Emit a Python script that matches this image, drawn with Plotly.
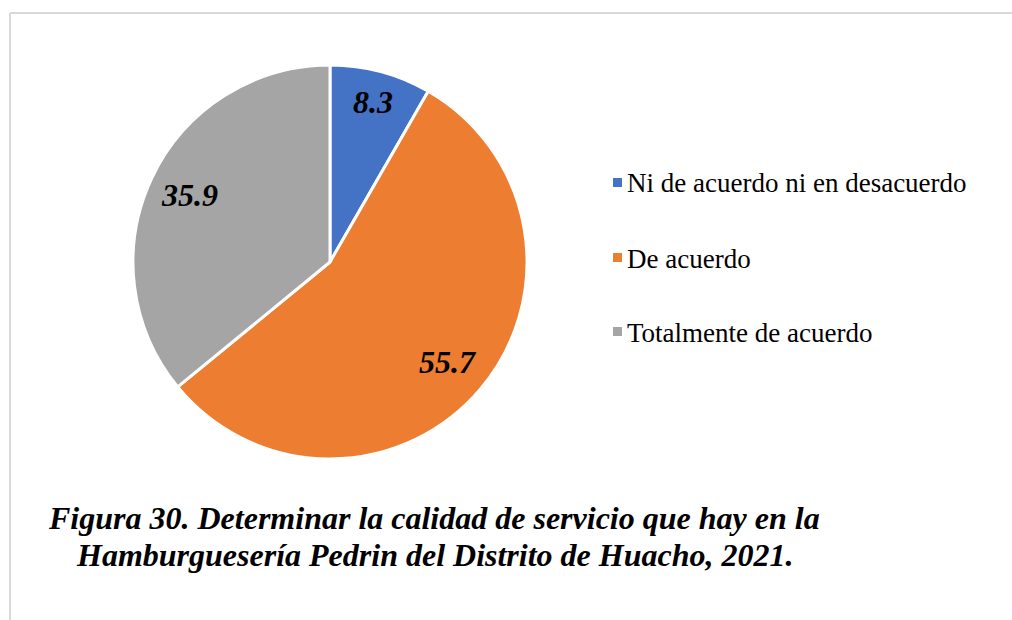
import math
import plotly.graph_objects as go

categories = ["Ni de acuerdo ni en desacuerdo", "De acuerdo", "Totalmente de acuerdo"]
values = [8.3, 55.7, 35.9]
colors = ["#4472C4", "#ED7D31", "#A5A5A5"]
title_lines = ["Figura 30. Determinar la calidad de servicio que hay en la",
               "Hamburguesería Pedrin del Distrito de Huacho, 2021."]

W, H = 1012, 620
FONT = "Liberation Serif, Times New Roman, serif"

def px(x):
    return x / W

def py(y):
    return 1 - y / H

cx, cy, r = 330, 262, 197
label_radius = [0.84, 0.785, 0.79]   # fraction of radius for each data label

fig = go.Figure()
fig.add_trace(go.Pie(
    labels=categories,
    values=values,
    sort=False,
    direction="clockwise",
    rotation=0,
    marker=dict(colors=colors, line=dict(color="white", width=3)),
    textinfo="none",
    hoverinfo="label+value",
    domain=dict(x=[px(cx - r), px(cx + r)], y=[py(cy + r), py(cy - r)]),
    showlegend=False,
))

shapes = [
    dict(type="line", xref="paper", yref="paper", x0=px(10), x1=1.0, y0=py(13), y1=py(13),
         line=dict(color="#D9D9D9", width=2)),
    dict(type="line", xref="paper", yref="paper", x0=px(10), x1=px(10), y0=py(13), y1=0,
         line=dict(color="#D9D9D9", width=2)),
]
annotations = []

# data labels placed along each slice's mid-angle (clockwise from 12 o'clock)
total = sum(values)
cum = 0.0
for v, f in zip(values, label_radius):
    mid = (cum + v / 2) / total * 2 * math.pi
    cum += v
    lx = cx + f * r * math.sin(mid)
    ly = cy - f * r * math.cos(mid)
    annotations.append(dict(x=px(lx), y=py(ly), xref="paper", yref="paper",
                            xanchor="center", yanchor="middle", showarrow=False,
                            text=f"{v}",
                            font=dict(family=FONT, size=32, color="black",
                                      style="italic", weight="bold")))

legend_y = [182.5, 257.5, 331.5]
for cat, col, ly in zip(categories, colors, legend_y):
    shapes.append(dict(type="rect", xref="paper", yref="paper",
                       x0=px(613), x1=px(622), y0=py(ly + 4.5), y1=py(ly - 4.5),
                       fillcolor=col, line=dict(width=0)))
    annotations.append(dict(x=px(625), y=py(ly + 1), xref="paper", yref="paper",
                            xanchor="left", yanchor="middle", showarrow=False,
                            text=cat, font=dict(family=FONT, size=27, color="black")))

for line, ty in zip(title_lines, [518, 555]):
    annotations.append(dict(x=px(434), y=py(ty), xref="paper", yref="paper",
                            xanchor="center", yanchor="middle", showarrow=False,
                            text=line,
                            font=dict(family=FONT, size=32, color="black",
                                      style="italic", weight="bold")))

fig.update_layout(
    width=W, height=H,
    margin=dict(l=0, r=0, t=0, b=0),
    paper_bgcolor="white",
    plot_bgcolor="white",
    shapes=shapes,
    annotations=annotations,
)

fig.write_html("out.html", config={"displayModeBar": False},
               post_script="document.body.style.margin='0';")
